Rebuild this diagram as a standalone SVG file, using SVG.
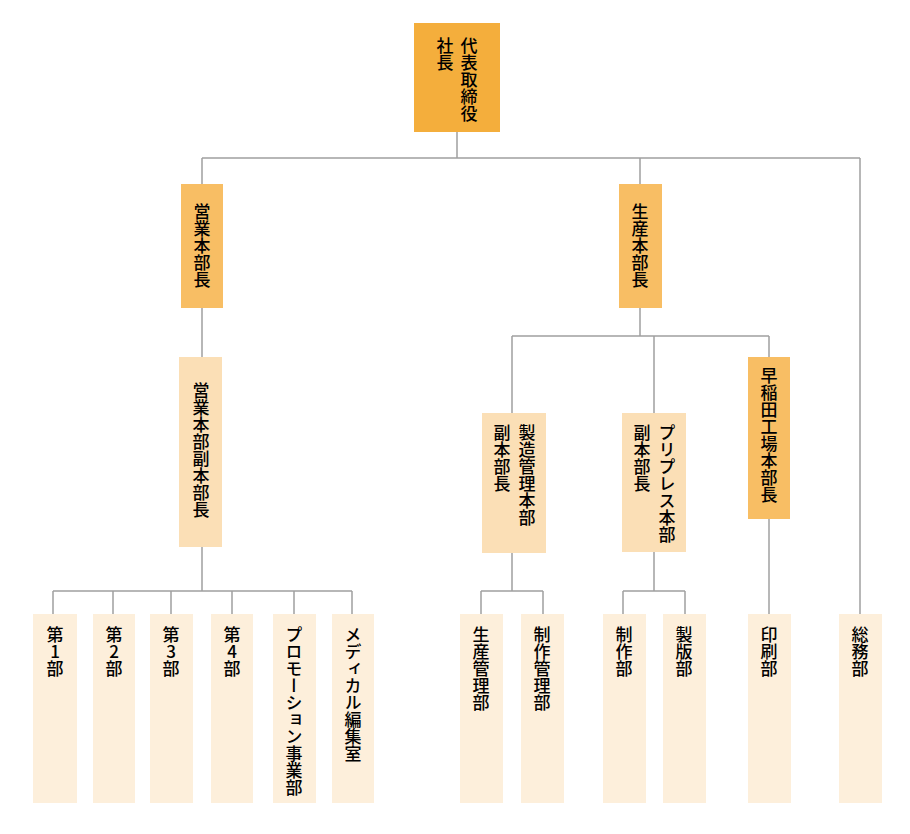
<svg xmlns="http://www.w3.org/2000/svg" width="910" height="834" viewBox="0 0 910 834">
<style>
.l1{fill:#F4AE3C}
.l2{fill:#F8BE64}
.l3{fill:#FBDFB6}
.l4{fill:#FDEFDB}
.t{font-family:"Noto Sans CJK JP","Noto Sans CJK SC",sans-serif;font-size:17px;font-weight:500;fill:#000;writing-mode:vertical-rl;text-orientation:upright}
.c{fill:none;stroke:#A0A0A0;stroke-width:1.5}
</style>
<rect width="910" height="834" fill="#fff"/>
<g id="connectors" class="c">
<path d="M457 132V158M202 158H860M202 158V184M640 158V184M860 158V614"/>
<path d="M202 308V357M202 547V591M53 591H352M53 591V614M113 591V614M171 591V614M232 591V614M294 591V614M352 591V614"/>
<path d="M640 308V336M512 336H769M512 336V413M654 336V413M769 336V357"/>
<path d="M512 553V591M481 591H543M481 591V614M543 591V614"/>
<path d="M654 552V591M623 591H685M623 591V614M685 591V614"/>
<path d="M769 519V614"/>
</g>
<g id="president"><rect class="l1" x="414" y="23" width="86" height="109"/><text class="t" x="469" y="37">代表取締役</text><text class="t" x="445" y="37">社長</text></g>
<g id="sales-head"><rect class="l2" x="181" y="184" width="42" height="124"/><text class="t" x="202" y="203">営業本部長</text></g>
<g id="prod-head"><rect class="l2" x="619" y="184" width="43" height="124"/><text class="t" x="640" y="203">生産本部長</text></g>
<g id="sales-deputy"><rect class="l3" x="179" y="357" width="43" height="190"/><text class="t" x="201" y="382">営業本部副本部長</text></g>
<g id="mfg-deputy"><rect class="l3" x="482" y="413" width="64" height="140"/><text class="t" x="527" y="424">製造管理本部</text><text class="t" x="502" y="424">副本部長</text></g>
<g id="prepress-deputy"><rect class="l3" x="622" y="413" width="64" height="139"/><text class="t" x="667" y="424">プリプレス本部</text><text class="t" x="642" y="424">副本部長</text></g>
<g id="waseda"><rect class="l2" x="748" y="357" width="42" height="162"/><text class="t" x="769" y="367">早稲田工場本部長</text></g>
<g id="dept1"><rect class="l4" x="33" y="614" width="44" height="189"/><text class="t" x="55" y="626">第1部</text></g>
<g id="dept2"><rect class="l4" x="93" y="614" width="42" height="189"/><text class="t" x="114" y="626">第2部</text></g>
<g id="dept3"><rect class="l4" x="150" y="614" width="43" height="189"/><text class="t" x="171" y="626">第3部</text></g>
<g id="dept4"><rect class="l4" x="211" y="614" width="42" height="189"/><text class="t" x="232" y="626">第4部</text></g>
<g id="promotion"><rect class="l4" x="273" y="614" width="43" height="189"/><text class="t" x="294" y="626">プロモーション事業部</text></g>
<g id="medical"><rect class="l4" x="332" y="614" width="42" height="189"/><text class="t" x="353" y="626">メディカル編集室</text></g>
<g id="prod-mgmt"><rect class="l4" x="460" y="614" width="43" height="189"/><text class="t" x="481" y="626">生産管理部</text></g>
<g id="make-mgmt"><rect class="l4" x="521" y="614" width="43" height="189"/><text class="t" x="542" y="626">制作管理部</text></g>
<g id="make"><rect class="l4" x="603" y="614" width="43" height="189"/><text class="t" x="624" y="626">制作部</text></g>
<g id="plate"><rect class="l4" x="663" y="614" width="43" height="189"/><text class="t" x="684" y="626">製版部</text></g>
<g id="print"><rect class="l4" x="748" y="614" width="43" height="189"/><text class="t" x="769" y="626">印刷部</text></g>
<g id="general"><rect class="l4" x="839" y="614" width="43" height="189"/><text class="t" x="860" y="626">総務部</text></g>
</svg>
